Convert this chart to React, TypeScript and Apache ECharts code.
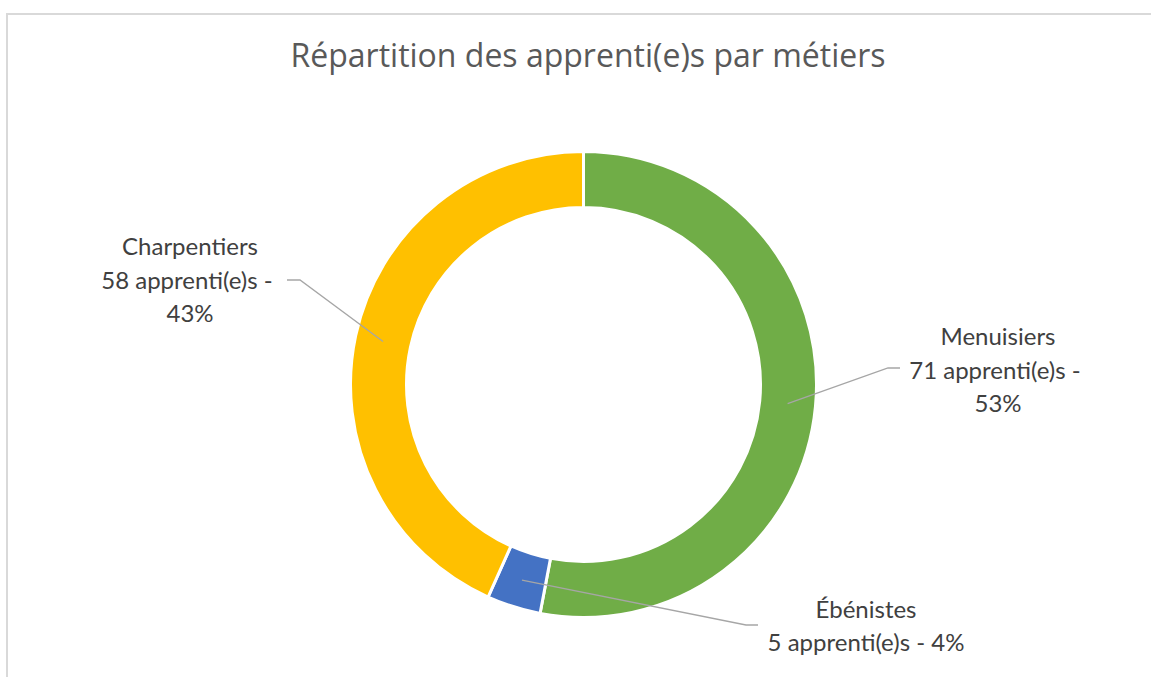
import React, { useEffect, useRef } from "react";
import * as echarts from "echarts";

const titleText = "Répartition des apprenti(e)s par métiers";
const categories = ["Menuisiers", "Ébénistes", "Charpentiers"];
const values = [71, 5, 58];
const colors = ["#70AD47", "#4472C4", "#FFC000"];
const unitLabel = "apprenti(e)s";

// layout (label anchor centres and guide-line ends), in pixels
const CX = 583.5;
const CY = 384.5;
const R_IN = 177;
const R_OUT = 233;
const labelCenters = [
  [998, 369],
  [866, 625],
  [190, 279],
];
const guideEnds = [
  [[888, 368], [900, 368]],
  [[746, 625], [758, 625]],
  [[300, 280], [287, 280]],
];
const FONT = "Lato, 'Open Sans', sans-serif";
const TITLE_FONT = "'Open Sans', Lato, sans-serif";

export default function App() {
  const ref = useRef<HTMLDivElement>(null);
  useEffect(() => {
    document.body.style.margin = "0";
    const chart = echarts.init(ref.current!, null, { renderer: "svg" });
    const total = values.reduce((a, b) => a + b, 0);
    const midAngles: number[] = [];
    let cum = 0;
    values.forEach((v) => {
      midAngles.push(((cum + v / 2) / total) * Math.PI * 2);
      cum += v;
    });
    const rMid = (R_IN + R_OUT) / 2;
    const guideLines = values.map((_, i) => {
      const a = midAngles[i];
      const start = [CX + rMid * Math.sin(a), CY - rMid * Math.cos(a)];
      return {
        type: "polyline",
        z: 100,
        silent: true,
        shape: { points: [start, guideEnds[i][0], guideEnds[i][1]] },
        style: { fill: "none", stroke: "#a6a6a6", lineWidth: 1.3 },
      };
    });
    chart.setOption({
      animation: false,
      backgroundColor: "#ffffff",
      title: {
        text: titleText,
        left: 583,
        top: 33,
        textAlign: "center",
        textStyle: {
          fontFamily: TITLE_FONT,
          fontSize: 32,
          fontWeight: "normal",
          color: "#595959",
        },
      },
      graphic: [
        {
          type: "rect",
          shape: { x: 7, y: 14, width: 1200, height: 700 },
          style: { fill: "none", stroke: "#d9d9d9", lineWidth: 2 },
          silent: true,
        },
        ...guideLines,
      ],
      series: [
        {
          type: "pie",
          center: [CX, CY],
          radius: [R_IN, R_OUT],
          startAngle: 90,
          clockwise: true,
          avoidLabelOverlap: false,
          itemStyle: { borderColor: "#ffffff", borderWidth: 3 },
          label: {
            show: true,
            position: "outside",
            fontFamily: FONT,
            fontSize: 24,
            lineHeight: 33.5,
            color: "#404040",
            align: "center",
            width: 215,
            overflow: "break",
            formatter: (p: any) =>
              `${p.name}\n${p.value} ${unitLabel} - ${Math.round(p.percent)}%`,
          },
          labelLine: { show: false },
          labelLayout: (p: any) => {
            const i = p.dataIndex;
            return {
              x: labelCenters[i][0],
              y: labelCenters[i][1],
              align: "center",
              verticalAlign: "middle",
            };
          },
          emphasis: { disabled: true },
          data: categories.map((c, i) => ({
            name: c,
            value: values[i],
            itemStyle: { color: colors[i] },
          })),
        },
      ],
    });
    return () => chart.dispose();
  }, []);
  return (
    <div
      ref={ref}
      style={{ position: "fixed", left: 0, top: 0, width: 1151, height: 677 }}
    />
  );
}
